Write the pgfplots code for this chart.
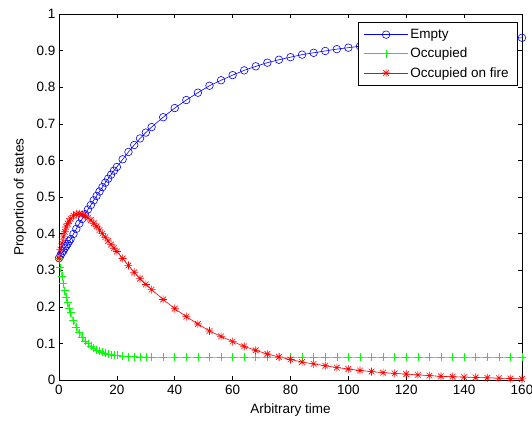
\documentclass[border=0pt]{standalone}
\usepackage{fontspec}
\setmainfont{Liberation Sans}
\usepackage{pgfplots}
\usepackage{pgfplotstable}
\pgfplotsset{compat=1.18}
\pgfdeclareplotmark{mstar}{%
 \pgfpathmoveto{\pgfqpoint{0pt}{\pgfplotmarksize}}\pgfpathlineto{\pgfqpoint{0pt}{-\pgfplotmarksize}}%
 \pgfpathmoveto{\pgfqpoint{\pgfplotmarksize}{0pt}}\pgfpathlineto{\pgfqpoint{-\pgfplotmarksize}{0pt}}%
 \pgfpathmoveto{\pgfqpointpolar{45}{\pgfplotmarksize}}\pgfpathlineto{\pgfqpointpolar{225}{\pgfplotmarksize}}%
 \pgfpathmoveto{\pgfqpointpolar{135}{\pgfplotmarksize}}\pgfpathlineto{\pgfqpointpolar{315}{\pgfplotmarksize}}%
 \pgfusepathqstroke}
\pgfplotstableread{
t E O F
0 0.333 0.333 0.333
0.5 0.340 0.307 0.356
1 0.347 0.284 0.374
1.5 0.353 0.263 0.391
2 0.360 0.244 0.405
2.5 0.366 0.226 0.418
3 0.372 0.211 0.427
3.5 0.379 0.197 0.434
4 0.385 0.184 0.441
5 0.399 0.162 0.449
6 0.413 0.144 0.453
7 0.427 0.129 0.454
8 0.440 0.117 0.453
9 0.453 0.107 0.449
10 0.466 0.099 0.443
11 0.478 0.092 0.437
12 0.491 0.087 0.428
13 0.503 0.082 0.420
14 0.515 0.079 0.410
15 0.527 0.076 0.400
16 0.539 0.073 0.390
17 0.550 0.071 0.380
18 0.561 0.069 0.370
19 0.572 0.068 0.360
20 0.582 0.067 0.351
22 0.603 0.065 0.332
24 0.623 0.064 0.313
26 0.642 0.064 0.294
28 0.660 0.063 0.277
30 0.676 0.063 0.261
32 0.691 0.062 0.247
36 0.718 0.062 0.220
40 0.743 0.062 0.195
44 0.765 0.062 0.173
48 0.785 0.062 0.153
52 0.804 0.062 0.134
56 0.819 0.062 0.119
60 0.833 0.062 0.105
64 0.846 0.062 0.092
68 0.857 0.062 0.081
72 0.867 0.062 0.071
76 0.875 0.062 0.063
80 0.882 0.062 0.056
84 0.889 0.062 0.049
88 0.894 0.062 0.044
92 0.899 0.062 0.039
96 0.904 0.062 0.034
100 0.908 0.062 0.030
104 0.912 0.062 0.026
108 0.915 0.062 0.023
112 0.918 0.062 0.020
116 0.920 0.062 0.018
120 0.922 0.062 0.016
124 0.924 0.062 0.014
128 0.926 0.062 0.012
132 0.928 0.062 0.010
136 0.929 0.062 0.009
140 0.930 0.062 0.008
144 0.931 0.062 0.007
148 0.932 0.062 0.006
152 0.933 0.062 0.005
156 0.934 0.062 0.004
160 0.935 0.062 0.003
}\data
\begin{document}
\begin{tikzpicture}[font=\fontsize{13.5}{16}\selectfont]
\useasboundingbox (-59pt,-41pt) rectangle (473pt,380pt);
\begin{axis}[
  at={(0,0)}, anchor=south west,
  scale only axis, width=463pt, height=366pt,
  xmin=0, xmax=160, ymin=0, ymax=1,
  xtick={0,20,40,60,80,100,120,140,160},
  ytick={0,0.1,0.2,0.3,0.4,0.5,0.6,0.7,0.8,0.9,1},
  /pgf/number format/assume math mode=true,
  tick align=inside, major tick length=4pt,
  tick style={black, line width=0.6pt},
  axis line style={line width=0.6pt},
  ticklabel style={font=\fontsize{13.5}{16}\selectfont},
  xticklabel style={yshift=-2pt},
  xlabel={Arbitrary time}, ylabel={Proportion of states},
  xlabel style={at={(axis description cs:0.5,-0.082)}, anchor=center},
  ylabel style={at={(axis description cs:-0.0842,0.5)}, anchor=center},
  legend cell align=left,
  legend style={at={(axis description cs:0.989,0.978)}, anchor=north east,
    draw=black, fill=white,
    font=\fontsize{13.5}{16}\selectfont,
    inner xsep=6pt, inner ysep=5pt, row sep=4pt},
  legend image code/.code={%
    \draw[mark repeat=2, mark phase=2, #1] plot coordinates {(0pt,0pt) (22pt,0pt) (44pt,0pt)};},
  every axis plot/.append style={line width=0.6pt},
]
\addplot+[blue, solid, mark=o, mark size=3.8pt, mark options={solid, blue}] table[x=t,y=E] {\data};
\addplot+[green, solid, mark=+, mark size=4pt, mark options={solid, green}] table[x=t,y=O] {\data};
\addplot+[red, solid, mark=mstar, mark size=4pt, mark options={solid, red}] table[x=t,y=F] {\data};
\legend{Empty, Occupied, Occupied on fire}
\end{axis}
\end{tikzpicture}
\end{document}
